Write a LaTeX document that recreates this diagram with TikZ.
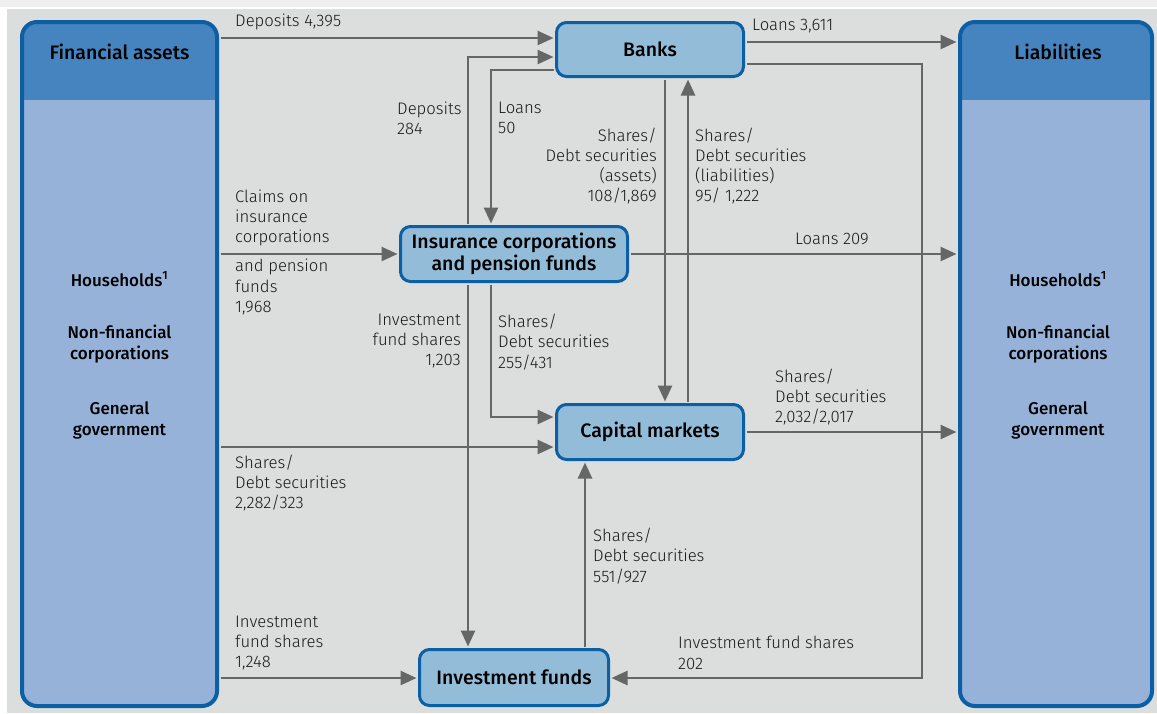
\documentclass[tikz,border=0pt]{standalone}
\usepackage{fontspec}
\setmainfont{Fira Sans Light}[BoldFont=Fira Sans Medium]
\usetikzlibrary{arrows.meta}
\usetikzlibrary{positioning}
\definecolor{paneGray}{HTML}{DCDDDD}
\definecolor{topGray}{HTML}{EFEFEF}
\definecolor{rimBlue}{HTML}{0B5FA5}
\definecolor{headBlue}{HTML}{4584BE}
\definecolor{bodyBlue}{HTML}{97B2D8}
\definecolor{boxBlue}{HTML}{93BCD9}
\definecolor{flowGray}{HTML}{666666}

\begin{document}
\begin{tikzpicture}[x=1pt, y=-1pt]
 \tikzstyle{sector}=[rectangle, rounded corners=15pt, draw=rimBlue, line width=4pt, fill=bodyBlue, minimum height=684pt, path picture={\fill[headBlue, sharp corners] (path picture bounding box.north west) rectangle ([yshift=-78pt]path picture bounding box.north east);}]
 \tikzstyle{inst}=[rectangle, rounded corners=10pt, draw=rimBlue, line width=3pt, fill=boxBlue, font=\bfseries\fontsize{19.5}{21.5}\selectfont, align=center]
 \tikzstyle{shead}=[font=\bfseries\fontsize{19.5}{21}\selectfont, align=center]
 \tikzstyle{sname}=[font=\bfseries\fontsize{17}{21}\selectfont, align=center]
 \tikzstyle{lbl}=[font=\fontsize{16.7}{20.3}\selectfont, text=black!90, inner sep=0pt]
 \tikzstyle{line}=[draw, line width=2.6pt, flowGray, shorten >=1.5pt, shorten <=1.5pt, -{Triangle[length=16pt, width=14pt]}]

 \useasboundingbox (0,0) rectangle (1157,713);
 \fill[white] (0,0) rectangle (1157,713);
 \fill[topGray] (0,0) rectangle (1157,7);
 \fill[paneGray] (7,9) rectangle (1157,713);

 % sectors
 \draw (119.5, 364) node[sector, minimum width=195pt] (fin) {};
 \draw (119.5, 52) node[shead] (finhead) {Financial assets};
 \draw (119.5, 279) node[sname] (finhh) {Households\textsuperscript{1}};
 \draw (119.5, 344) node[sname] (finnfc) {Non-financial\\corporations};
 \draw (119.5, 420) node[sname] (fingg) {General\\government};
 \draw (1056, 364) node[sector, minimum width=192pt] (liab) {};
 \draw (1058, 52) node[shead] (liabhead) {Liabilities};
 \draw (1058, 279) node[sname] (liabhh) {Households\textsuperscript{1}};
 \draw (1058, 344) node[sname] (liabnfc) {Non-financial\\corporations};
 \draw (1058, 420) node[sname] (liabgg) {General\\government};

 % financial institutions
 \draw (650, 49.5) node[inst, minimum width=187pt, minimum height=54pt] (banks) {Banks};
 \draw (514, 254) node[inst, minimum width=227pt, minimum height=55pt, inner sep=1pt] (ins) {Insurance corporations\\and pension funds};
 \draw (650, 432) node[inst, minimum width=187pt, minimum height=55pt] (cap) {Capital markets};
 \draw (514, 677.5) node[inst, minimum width=189pt, minimum height=56pt] (inv) {Investment funds};

 % flows
 \path [line] (fin.east |- 0,38) -- (banks.west |- 0,38);
 \path [line] (ins.north -| 468,0) -- (468,57) -- (banks.west |- 0,57);
 \path [line] (banks.west |- 0,70) -- (491,70) -- (ins.north -| 491,0);
 \path [line] (banks.east |- 0,42) -- (liab.west |- 0,42);
 \path [line] (banks.east |- 0,64) -- (922,64) -- (922,678) -- (inv.east |- 0,678);
 \path [line] (banks.south -| 665,0) -- (cap.north -| 665,0);
 \path [line] (cap.north -| 688,0) -- (banks.south -| 688,0);
 \path [line] (fin.east |- ins.west) -- (ins.west);
 \path [line] (ins.east) -- (liab.west |- ins.east);
 \path [line] (ins.south -| 468,0) -- (inv.north -| 468,0);
 \path [line] (ins.south -| 491,0) -- (491,417) -- (cap.west |- 0,417);
 \path [line] (fin.east |- 0,447) -- (cap.west |- 0,447);
 \path [line] (cap.east) -- (liab.west |- cap.east);
 \path [line] (inv.north -| 585,0) -- (cap.south -| 585,0);
 \path [line] (fin.east |- 0,678) -- (inv.west |- 0,678);

 % labels
 \draw (235, 22) node[lbl, anchor=west] (ldep4395) {Deposits 4,395};
 \draw (397, 118) node[lbl, anchor=west, align=left] (ldep284) {Deposits\\284};
 \draw (498, 118) node[lbl, anchor=west, align=left] (lloan50) {Loans\\50};
 \draw (657, 166) node[lbl, anchor=east, align=right] (lsdsassets) {Shares/\\Debt securities\\(assets)\\108/1,869};
 \draw (695, 166) node[lbl, anchor=west, align=left] (lsdsliab) {Shares/\\Debt securities\\(liabilities)\\95/ 1,222};
 \draw (752, 26) node[lbl, anchor=west] (lloan3611) {Loans 3,611};
 \draw (235, 218) node[lbl, anchor=west, align=left] (lclaims) {Claims on\\insurance\\corporations};
 \draw (235, 287) node[lbl, anchor=west, align=left] (lpension) {and pension\\funds\\1,968};
 \draw (832, 239) node[lbl] (lloan209) {Loans 209};
 \draw (461, 341) node[lbl, anchor=east, align=right] (lifs1203) {Investment\\fund shares\\1,203};
 \draw (498, 342) node[lbl, anchor=west, align=left] (lsds255) {Shares/\\Debt securities\\255/431};
 \draw (775, 397) node[lbl, anchor=west, align=left] (lsds2032) {Shares/\\Debt securities\\2,032/2,017};
 \draw (235, 483) node[lbl, anchor=west, align=left] (lsds2282) {Shares/\\Debt securities\\2,282/323};
 \draw (593, 556) node[lbl, anchor=west, align=left] (lsds551) {Shares/\\Debt securities\\551/927};
 \draw (235, 643) node[lbl, anchor=west, align=left] (lifs1248) {Investment\\fund shares\\1,248};
 \draw (678, 653) node[lbl, anchor=west, align=left] (lifs202) {Investment fund shares\\202};
\end{tikzpicture}
\end{document}
